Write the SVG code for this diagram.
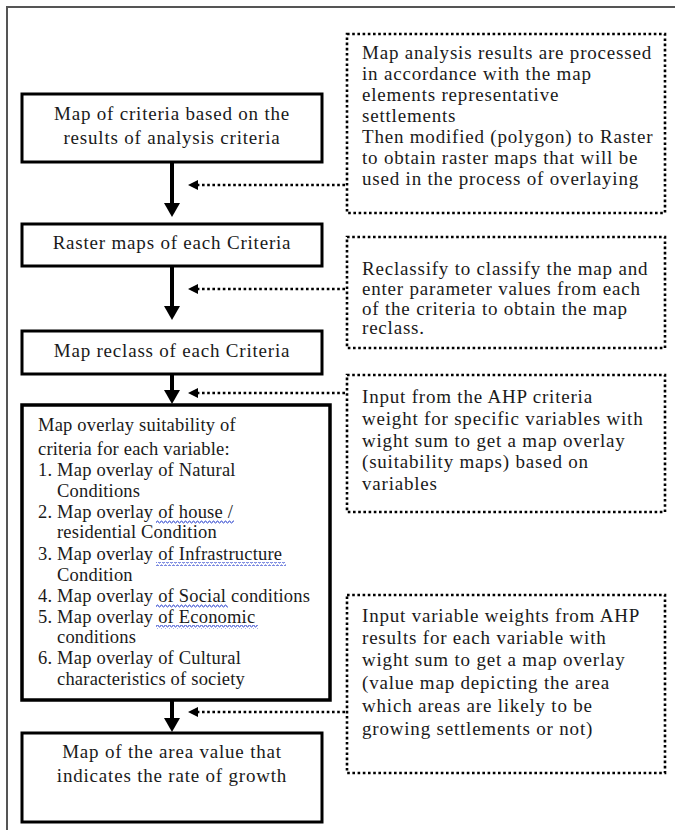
<svg xmlns="http://www.w3.org/2000/svg" width="675" height="830" viewBox="0 0 675 830">
<style>
.frame{fill:none;stroke:#555;stroke-width:2}
.box{fill:#fff;stroke:#000;stroke-width:3}
.note{fill:#fff;stroke:#000;stroke-width:2.6;stroke-dasharray:2.6 2.6}
.t{font-family:"Liberation Serif","Times New Roman",serif;font-size:19px;letter-spacing:0.8px;fill:#1a1a1a}
.l{font-size:18.5px;letter-spacing:0.2px}
.c{text-anchor:middle}
.shaft{stroke:#000;stroke-width:4;fill:none}
.dot{stroke:#000;stroke-width:2.6;stroke-dasharray:2.6 2.6;fill:none}
.wavy{fill:url(#wave)}
</style>
<defs>
<marker id="bigHead" markerUnits="userSpaceOnUse" markerWidth="16" markerHeight="16" refX="10" refY="8" orient="auto">
<path d="M0,0 L14,8 L0,16 z" fill="#000"/>
</marker>
<marker id="smallHead" markerUnits="userSpaceOnUse" markerWidth="11" markerHeight="10" refX="6" refY="5" orient="auto">
<path d="M0,0 L10,5 L0,10 z" fill="#000"/>
</marker>
<pattern id="wave" patternUnits="userSpaceOnUse" width="4" height="4">
<path d="M0,3 L1,1 L2,1 L3,3 L4,3" fill="none" stroke="#3a50d0" stroke-width="0.9"/>
</pattern>
</defs>

<path class="frame" d="M7,830 V7 H675"/>

<g id="node-criteria-map">
<rect class="box" x="22" y="94" width="300" height="68"/>
<text class="t c" x="172" y="120">Map of criteria based on the</text>
<text class="t c" x="172" y="144">results of analysis criteria</text>
</g>

<g id="node-raster-maps">
<rect class="box" x="22" y="224" width="300" height="42"/>
<text class="t c" x="172" y="249">Raster maps of each Criteria</text>
</g>

<g id="node-map-reclass">
<rect class="box" x="22" y="331" width="300" height="43"/>
<text class="t c" x="172" y="357">Map reclass of each Criteria</text>
</g>

<g id="node-overlay">
<rect class="box" x="22" y="405" width="308" height="295" style="stroke-width:3.5"/>
<text class="t l" x="38" y="431">Map overlay suitability of</text>
<text class="t l" x="38" y="455">criteria for each variable:</text>
<text class="t l" x="38" y="476">1. Map overlay of Natural</text>
<text class="t l" x="57" y="497">Conditions</text>
<text class="t l" x="38" y="518">2. Map overlay of house /</text>
<text class="t l" x="57" y="538">residential Condition</text>
<text class="t l" x="38" y="560">3. Map overlay of Infrastructure</text>
<text class="t l" x="57" y="581">Condition</text>
<text class="t l" x="38" y="602">4. Map overlay of Social conditions</text>
<text class="t l" x="38" y="623">5. Map overlay of Economic</text>
<text class="t l" x="57" y="643">conditions</text>
<text class="t l" x="38" y="664">6. Map overlay of Cultural</text>
<text class="t l" x="57" y="685">characteristics of society</text>
<rect class="wavy" x="156" y="520" width="78" height="4"/>
<rect class="wavy" x="156" y="562" width="130" height="4"/>
<rect class="wavy" x="156" y="604" width="72" height="4"/>
<rect class="wavy" x="156" y="625" width="102" height="4"/>
</g>

<g id="node-area-value">
<rect class="box" x="22" y="733" width="300" height="89"/>
<text class="t c" x="172" y="758">Map of the area value that</text>
<text class="t c" x="172" y="782">indicates the rate of growth</text>
</g>

<g id="note-polygon-raster">
<rect class="note" x="347" y="34" width="318" height="179"/>
<text class="t" x="362" y="59">Map analysis results are processed</text>
<text class="t" x="362" y="80">in accordance with the map</text>
<text class="t" x="362" y="101">elements representative</text>
<text class="t" x="362" y="122">settlements</text>
<text class="t" x="362" y="143">Then modified (polygon) to Raster</text>
<text class="t" x="362" y="164">to obtain raster maps that will be</text>
<text class="t" x="362" y="185">used in the process of overlaying</text>
</g>

<g id="note-reclassify">
<rect class="note" x="347" y="237" width="318" height="111"/>
<text class="t" x="362" y="275">Reclassify to classify the map and</text>
<text class="t" x="362" y="295">enter parameter values from each</text>
<text class="t" x="362" y="315">of the criteria to obtain the map</text>
<text class="t" x="362" y="334">reclass.</text>
</g>

<g id="note-ahp-criteria">
<rect class="note" x="347" y="375" width="318" height="137"/>
<text class="t" x="362" y="403">Input from the AHP criteria</text>
<text class="t" x="362" y="425">weight for specific variables with</text>
<text class="t" x="362" y="447">wight sum to get a map overlay</text>
<text class="t" x="362" y="468">(suitability maps) based on</text>
<text class="t" x="362" y="490">variables</text>
</g>

<g id="note-ahp-variable">
<rect class="note" x="347" y="595" width="318" height="178"/>
<text class="t" x="362" y="622">Input variable weights from AHP</text>
<text class="t" x="362" y="644">results for each variable with</text>
<text class="t" x="362" y="666">wight sum to get a map overlay</text>
<text class="t" x="362" y="689">(value map depicting the area</text>
<text class="t" x="362" y="712">which areas are likely to be</text>
<text class="t" x="362" y="735">growing settlements or not)</text>
</g>

<g id="connectors">
<line class="shaft" x1="172" y1="162" x2="172" y2="213" marker-end="url(#bigHead)"/>
<line class="shaft" x1="172" y1="266" x2="172" y2="316" marker-end="url(#bigHead)"/>
<line class="shaft" x1="172" y1="374" x2="172" y2="400" marker-end="url(#bigHead)"/>
<line class="shaft" x1="172" y1="700" x2="172" y2="728" marker-end="url(#bigHead)"/>
<line class="dot" x1="345" y1="185" x2="192" y2="185" marker-end="url(#smallHead)"/>
<line class="dot" x1="345" y1="289" x2="192" y2="289" marker-end="url(#smallHead)"/>
<line class="dot" x1="345" y1="393" x2="192" y2="393" marker-end="url(#smallHead)"/>
<line class="dot" x1="345" y1="712" x2="192" y2="712" marker-end="url(#smallHead)"/>
</g>
</svg>
